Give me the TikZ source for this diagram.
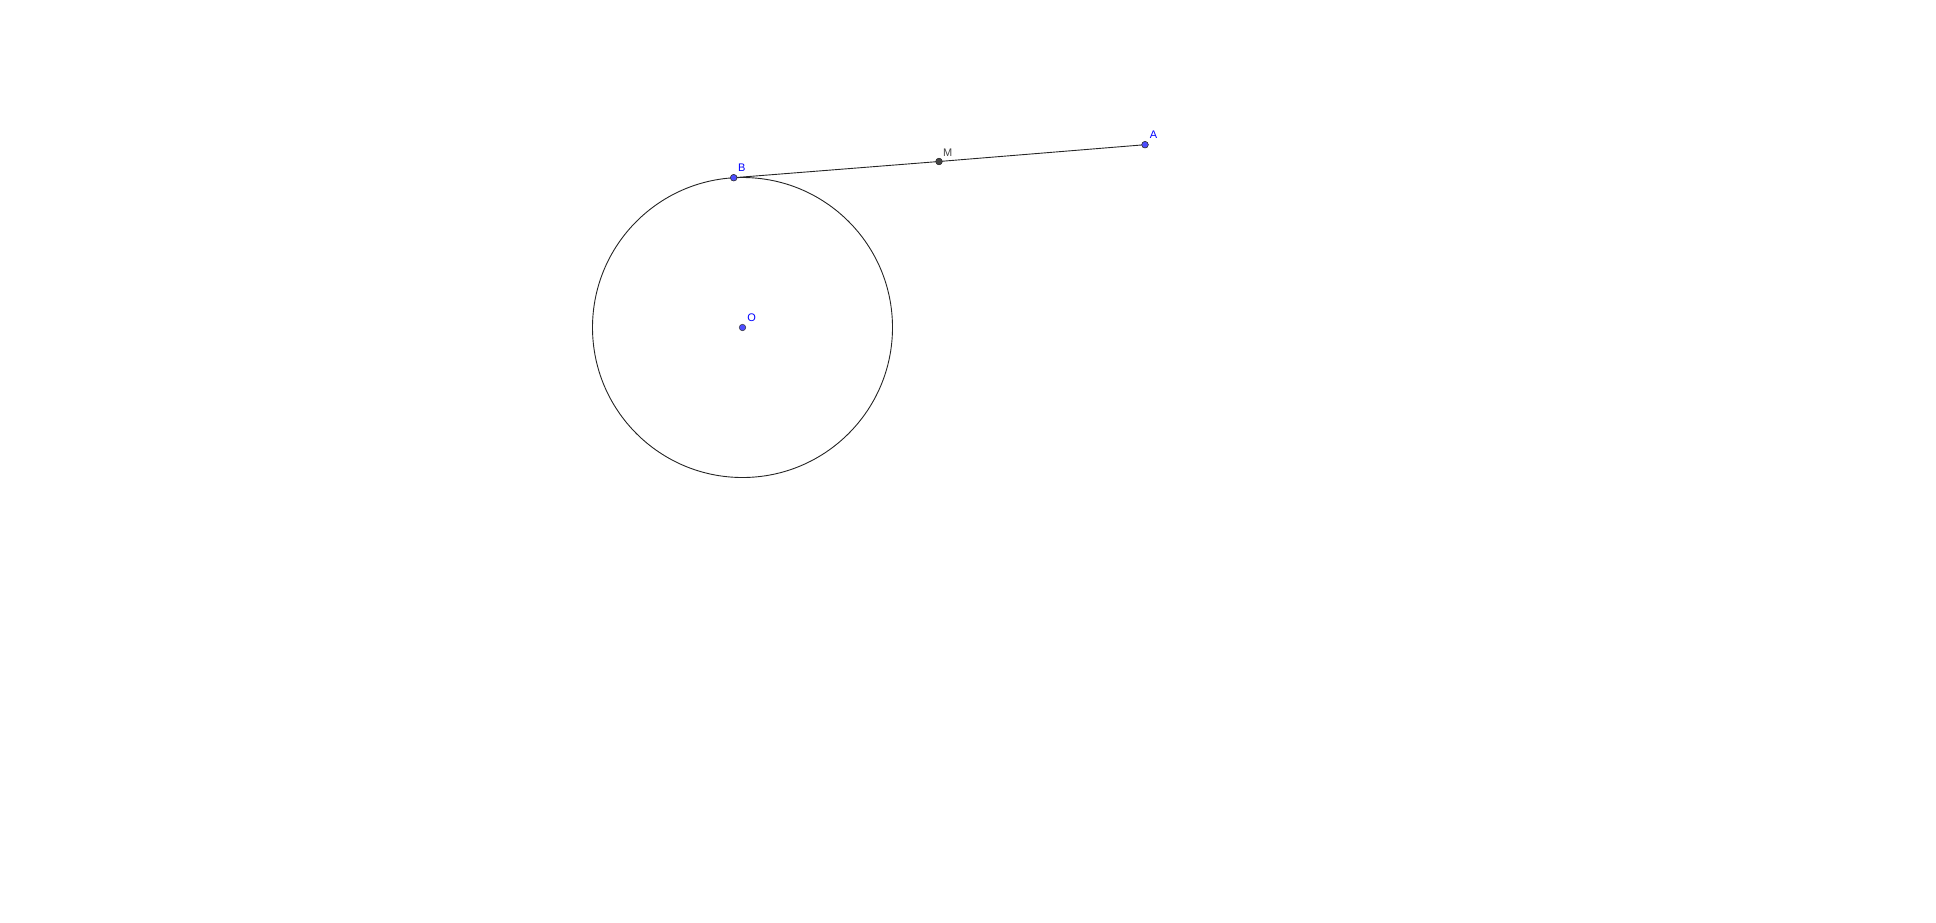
\documentclass[tikz,border=0pt]{standalone}
\usepackage{fontspec}
\setmainfont{Liberation Sans}
\definecolor{ptblue}{RGB}{77,77,255}
\definecolor{lblblue}{RGB}{0,0,255}
\definecolor{ptgray}{RGB}{68,68,68}
\tikzset{
  ptfree/.style={circle,fill=ptblue,draw=black!80,line width=0.5pt,inner sep=0pt,minimum size=6.5pt},
  ptdep/.style={circle,fill=ptgray,draw=black!80,line width=0.5pt,inner sep=0pt,minimum size=6.5pt},
  lbl/.style={font=\fontsize{11}{13}\selectfont,inner sep=0pt},
  geo/.style={line width=0.9pt,draw=black!85}
}
\begin{document}
\begin{tikzpicture}[x=1pt,y=-1pt]
\useasboundingbox (0,0) rectangle (1936,922);
\coordinate (Oc) at (742.5,327.5);
\draw[geo] (Oc) circle[radius=150];
\node[ptfree] (O) at (Oc) {};
\node[ptfree] (B) at (733.7,177.7) {};
\node[ptfree] (A) at (1145,144.7) {};
\node[ptdep] (M) at (939,161.5) {};
\draw[geo] (B.center) -- (M.center) -- (A.center);
\node[ptfree] at (B) {};
\node[ptfree] at (A) {};
\node[ptdep] at (M) {};
\node[lbl,text=lblblue] (lA) at (1153.5,135) {A};
\node[lbl,text=lblblue] (lB) at (741.7,167.7) {B};
\node[lbl,text=lblblue] (lO) at (751.7,317.7) {O};
\node[lbl,text=ptgray] (lM) at (947.7,152.3) {M};
\end{tikzpicture}
\end{document}
